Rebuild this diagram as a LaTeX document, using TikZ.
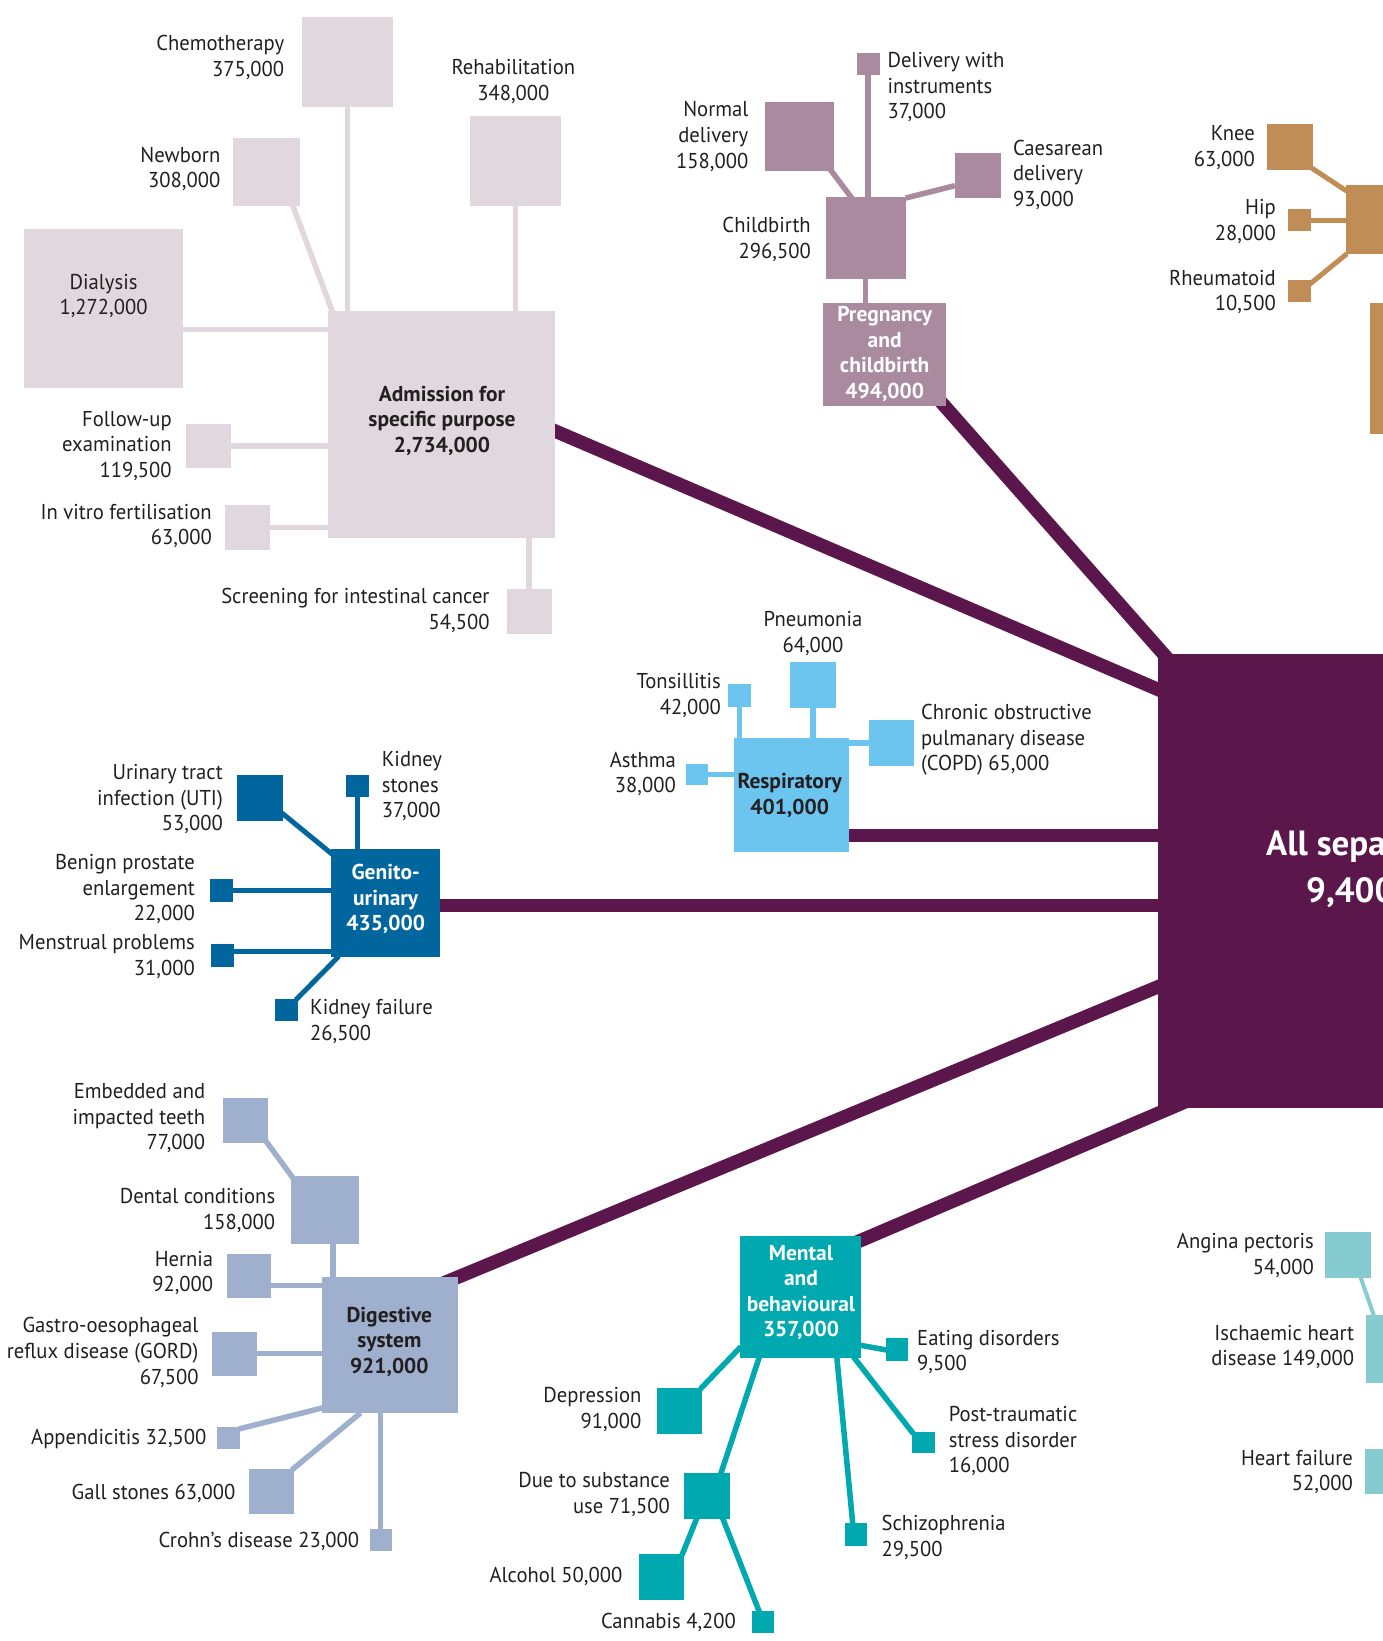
\documentclass[tikz,border=0pt]{standalone}
\usepackage{fontspec}
\setmainfont{PT Sans}
\newfontfamily\labfont{PT Sans}[FakeStretch=0.96]
\usetikzlibrary{backgrounds,calc}
\definecolor{admc}{HTML}{E0D8DE}
\definecolor{pregc}{HTML}{A98A9E}
\definecolor{orthc}{HTML}{BF8D55}
\definecolor{respc}{HTML}{6CC5EF}
\definecolor{genc}{HTML}{00669D}
\definecolor{digc}{HTML}{9FB0CF}
\definecolor{mentc}{HTML}{00A8B0}
\definecolor{heartc}{HTML}{85CBD0}
\definecolor{mainc}{HTML}{5B164B}
\definecolor{txtc}{HTML}{231F20}
\begin{document}
\begin{tikzpicture}[x=1pt,y=-1pt,
 box/.style={fill=#1,draw=none,inner sep=0pt,outer sep=0pt},
 sz/.style 2 args={minimum width=#1pt,minimum height=#2pt},
 conn/.style={draw=#1,line width=5.5pt},
 mainln/.style={draw=mainc,line width=13.5pt},
 lab/.style={inner sep=0pt,font=\labfont\fontsize{21.5}{25.6}\selectfont,text=txtc},
 labr/.style={lab,align=right,anchor=east},
 labl/.style={lab,align=left,anchor=west},
 labc/.style={lab,align=center},
 head/.style={inner sep=0pt,font=\fontsize{21.5}{25.6}\selectfont\bfseries,align=center,text=#1},
 bigtxt/.style={inner sep=0pt,anchor=west,font=\fontsize{35}{46}\selectfont\bfseries,text=white}
]
\useasboundingbox (0,0) rectangle (1383,1641);
\clip (0,0) rectangle (1383,1641);

% ---------- Admission for specific purpose ----------
\node[box=admc,sz={91}{90}] (chemo) at (347.3,61.5) {};
\node[box=admc,sz={91}{90}] (rehab) at (515.5,161.2) {};
\node[box=admc,sz={67.4}{67.6}] (newborn) at (266.7,171.8) {};
\node[box=admc,sz={159}{158.8}] (dialysis) at (103.5,308.2) {};
\node[box=admc,sz={227}{226.6}] (adm) at (441.5,424.3) {};
\node[box=admc,sz={44.8}{44.4}] (follow) at (208.4,446.2) {};
\node[box=admc,sz={45}{44.6}] (ivf) at (247.5,527.3) {};
\node[box=admc,sz={45}{45}] (screen) at (529.2,611) {};

\node[labr] (lchemo) at (284.4,57.5) {Chemotherapy\\375,000};
\node[labc] (lrehab) at (513.4,81.5) {Rehabilitation\\348,000};
\node[labr] (lnewborn) at (220.5,169) {Newborn\\308,000};
\node[labc] (ldialysis) at (103.6,296) {Dialysis\\1,272,000};
\node[head=txtc] (ladm) at (442,420.7) {Admission for\\specific purpose\\2,734,000};
\node[labr] (lfollow) at (171.9,445.9) {Follow-up\\examination\\119,500};
\node[labr] (livf) at (212,526) {In vitro fertilisation\\63,000};
\node[labr] (lscreen) at (489.7,610.3) {Screening for intestinal cancer\\54,500};

% ---------- Pregnancy and childbirth ----------
\node[box=pregc,sz={22.7}{22.4}] (instr) at (868.2,64.2) {};
\node[box=pregc,sz={68.4}{68.8}] (normal) at (799.5,136.4) {};
\node[box=pregc,sz={45.8}{44.6}] (caes) at (977.7,175.7) {};
\node[box=pregc,sz={80.1}{81.5}] (childb) at (865.6,237.8) {};
\node[box=pregc,sz={123.2}{103.6}] (preg) at (884.4,354.4) {};

\node[labl] (linstr) at (887.3,87) {Delivery with\\instruments\\37,000};
\node[labr] (lnormal) at (748.5,136.5) {Normal\\delivery\\158,000};
\node[labl] (lcaes) at (1012.8,174.6) {Caesarean\\delivery\\93,000};
\node[labr] (lchildb) at (811,239.5) {Childbirth\\296,500};
\node[head=white] (lpreg) at (884.7,354) {Pregnancy\\and\\childbirth\\494,000};

% ---------- Musculoskeletal (partial) ----------
\node[box=orthc,sz={46}{45.5}] (knee) at (1290,146.8) {};
\node[box=orthc,sz={23}{22}] (hip) at (1299.5,220) {};
\node[box=orthc,sz={23}{22}] (rheum) at (1299.5,291) {};
\node[box=orthc,sz={68.4}{68.4}] (ortho) at (1380.2,219.5) {};
\node[box=orthc,sz={131}{131}] (orthb) at (1435,368.1) {};

\node[labr] (lknee) at (1255,147.7) {Knee\\63,000};
\node[labr] (lhip) at (1276,221.3) {Hip\\28,000};
\node[labr] (lrheum) at (1276,292) {Rheumatoid\\10,500};

% ---------- Respiratory ----------
\node[box=respc,sz={46}{45.3}] (pneu) at (813,685) {};
\node[box=respc,sz={23.1}{22.6}] (tons) at (739.5,695.3) {};
\node[box=respc,sz={115}{114}] (resp) at (791.5,794.5) {};
\node[box=respc,sz={22}{21}] (asthma) at (696.7,774.5) {};
\node[box=respc,sz={45.3}{45.6}] (copd) at (891.3,742.8) {};

\node[labc] (lpneu) at (813,633.7) {Pneumonia\\64,000};
\node[labr] (ltons) at (721,695.7) {Tonsillitis\\42,000};
\node[labr] (lasthma) at (676,773.9) {Asthma\\38,000};
\node[labl] (lcopd) at (920.8,740) {Chronic obstructive\\pulmanary disease\\(COPD) 65,000};
\node[head=txtc] (lresp) at (789.7,795.7) {Respiratory\\401,000};

% ---------- Genito-urinary ----------
\node[box=genc,sz={45.6}{45.7}] (uti) at (259.8,797.9) {};
\node[box=genc,sz={22.3}{22}] (kstone) at (357.6,786.3) {};
\node[box=genc,sz={109.2}{108}] (gen) at (385.4,903.3) {};
\node[box=genc,sz={22.8}{22.4}] (benign) at (221.2,890.5) {};
\node[box=genc,sz={22.5}{22.4}] (menst) at (222.3,955.5) {};
\node[box=genc,sz={22.8}{22.5}] (kfail) at (286.4,1010.2) {};

\node[labr] (luti) at (223,799) {Urinary tract\\infection (UTI)\\53,000};
\node[labl] (lkstone) at (381.7,786) {Kidney\\stones\\37,000};
\node[labr] (lbenign) at (195,889) {Benign prostate\\enlargement\\22,000};
\node[labr] (lmenst) at (195,956.8) {Menstrual problems\\31,000};
\node[labl] (lkfail) at (310,1021.7) {Kidney failure\\26,500};
\node[head=white] (lgen) at (385.7,899) {Genito-\\urinary\\435,000};

% ---------- Digestive ----------
\node[box=digc,sz={45}{44.6}] (embed) at (245.5,1120.3) {};
\node[box=digc,sz={67.5}{67.5}] (dental) at (324.8,1209.8) {};
\node[box=digc,sz={44.6}{44}] (hernia) at (249.1,1276) {};
\node[box=digc,sz={135.6}{135.7}] (dig) at (389.8,1344.9) {};
\node[box=digc,sz={45}{44}] (gord) at (234.5,1353.5) {};
\node[box=digc,sz={22.3}{22}] (append) at (228.6,1438) {};
\node[box=digc,sz={44.7}{44.6}] (gall) at (271.4,1491.3) {};
\node[box=digc,sz={21.9}{22}] (crohn) at (380.6,1540) {};

\node[labr] (lembed) at (205.4,1118.4) {Embedded and\\impacted teeth\\77,000};
\node[labr] (ldental) at (275.4,1210.2) {Dental conditions\\158,000};
\node[labr] (lhernia) at (213.4,1272.9) {Hernia\\92,000};
\node[labr] (lgord) at (198.7,1352.5) {Gastro-oesophageal\\reflux disease (GORD)\\67,500};
\node[labr] (lappend) at (206.7,1438.5) {Appendicitis 32,500};
\node[labr] (lgall) at (235.7,1493) {Gall stones 63,000};
\node[labr] (lcrohn) at (359.4,1541) {Crohn’s disease 23,000};
\node[head=txtc] (ldig) at (389.3,1341.8) {Digestive\\system\\921,000};

% ---------- Mental and behavioural ----------
\node[box=mentc,sz={121.4}{121.7}] (mental) at (800.5,1296.9) {};
\node[box=mentc,sz={22.7}{22.4}] (eat) at (896.9,1349.5) {};
\node[box=mentc,sz={45.8}{45.7}] (depr) at (679.4,1410.9) {};
\node[box=mentc,sz={46.4}{45.7}] (subst) at (707,1495.9) {};
\node[box=mentc,sz={45.2}{45.7}] (alco) at (661.8,1576.9) {};
\node[box=mentc,sz={22.6}{22.3}] (cann) at (763,1622.2) {};
\node[box=mentc,sz={22}{22.7}] (schiz) at (856,1534.7) {};
\node[box=mentc,sz={22.7}{21.6}] (ptsd) at (923.7,1442.5) {};

\node[labl] (leat) at (917,1352) {Eating disorders\\9,500};
\node[labr] (ldepr) at (641.6,1409.7) {Depression\\91,000};
\node[labr] (lsubst) at (670,1494.5) {Due to substance\\use 71,500};
\node[labr] (lalco) at (622.6,1576) {Alcohol 50,000};
\node[labr] (lcann) at (736.2,1622.7) {Cannabis 4,200};
\node[labl] (lschiz) at (881.4,1537.5) {Schizophrenia\\29,500};
\node[labl] (lptsd) at (948.6,1441) {Post-traumatic\\stress disorder\\16,000};
\node[head=white] (lmental) at (801,1292.5) {Mental\\and\\behavioural\\357,000};

% ---------- Circulatory (partial) ----------
\node[box=heartc,sz={45.7}{45.7}] (angina) at (1348.2,1254.9) {};
\node[box=heartc,sz={68.3}{68.3}] (isch) at (1400.5,1349.2) {};
\node[box=heartc,sz={45.3}{45.3}] (hfail) at (1387.2,1471.7) {};

\node[labr] (langina) at (1314,1255.5) {Angina pectoris\\54,000};
\node[labr] (lisch) at (1354.4,1347) {Ischaemic heart\\disease 149,000};
\node[labr] (lhfail) at (1353,1472) {Heart failure\\52,000};

% ---------- All separations ----------
\node[box=mainc,sz={453.2}{453.2}] (mainbox) at (1384.4,881) {};
\node[bigtxt] (lall1) at (1266,847) {All sepa};
\node[bigtxt] (lall2) at (1306,893) {9,400};

% ---------- connectors ----------
\begin{pgfonlayer}{background}
 % admission
 \draw[conn=admc] (chemo.south) -- (chemo.south |- adm.north);
 \draw[conn=admc] (rehab.south) -- (rehab.south |- adm.north);
 \draw[conn=admc] ($(newborn.south east)+(-8,-1)$) -- ($(adm.north west)+(4.6,1)$);
 \coordinate (cdia) at ($(dialysis.east)+(0,21.3)$);
 \draw[conn=admc] (cdia) -- (cdia -| adm.west);
 \draw[conn=admc] (follow.east) -- (follow.east -| adm.west);
 \draw[conn=admc] (ivf.east) -- (ivf.east -| adm.west);
 \draw[conn=admc] (screen.north) -- (screen.north |- adm.south);
 % pregnancy
 \draw[conn=pregc] (instr.south) -- (instr.south |- childb.north);
 \draw[conn=pregc] ($(normal.south east)+(-4,-2)$) -- ($(childb.north west)+(27,2)$);
 \draw[conn=pregc] ($(caes.west)+(0,10)$) -- ($(childb.north east)+(0,1)$);
 \draw[conn=pregc] (childb.south) -- (childb.south |- preg.north);
 % musculoskeletal
 \draw[conn=orthc,line width=5pt] ($(knee.south east)+(-2,-2)$) -- ($(ortho.north west)+(1,6)$);
 \draw[conn=orthc,line width=5pt] (hip.east) -- (hip.east -| ortho.west);
 \draw[conn=orthc,line width=5pt] ($(rheum.north east)+(-1,4)$) -- ($(ortho.south west)+(1,0)$);
 % respiratory
 \draw[conn=respc] (pneu.south) -- (pneu.south |- resp.north);
 \draw[conn=respc] (tons.south) -- (tons.south |- resp.north);
 \draw[conn=respc] (asthma.east) -- (asthma.east -| resp.west);
 \draw[conn=respc] (copd.west) -- (copd.west -| resp.east);
 % genito-urinary
 \draw[conn=genc,line width=5pt] ($(uti.south east)+(-1,-8)$) -- ($(gen.north west)+(1.5,5)$);
 \draw[conn=genc,line width=5pt] (kstone.south) -- (kstone.south |- gen.north);
 \draw[conn=genc,line width=5pt] (benign.east) -- (benign.east -| gen.west);
 \coordinate (cmen) at ($(menst.east)+(0,-4.5)$);
 \draw[conn=genc,line width=5pt] (cmen) -- (cmen -| gen.west);
 \draw[conn=genc,line width=5pt] ($(kfail.north east)+(-2,1)$) -- ($(gen.south west)+(8,-1)$);
 % digestive
 \draw[conn=digc] ($(embed.south east)+(-2.4,-2)$) -- ($(dental.north west)+(2,2)$);
 \coordinate (cden) at ($(dental.south)+(8.2,0)$);
 \draw[conn=digc] (cden) -- (cden |- dig.north);
 \coordinate (cher) at ($(hernia.east)+(0,9.7)$);
 \draw[conn=digc] (cher) -- (cher -| dig.west);
 \draw[conn=digc] (gord.east) -- (gord.east -| dig.west);
 \draw[conn=digc] ($(append.north east)+(-1,2)$) -- ($(dig.south west)+(1,-5)$);
 \draw[conn=digc] ($(gall.north east)+(-2,1)$) -- ($(dig.south west)+(38.7,0)$);
 \draw[conn=digc] (crohn.north) -- (crohn.north |- dig.south);
 % mental
 \draw[conn=mentc] ($(mental.south east)+(-2,-12.7)$) -- ($(eat.west)+(1,0.5)$);
 \draw[conn=mentc] ($(depr.north east)+(-2,1)$) -- ($(mental.south west)+(1,-11)$);
 \draw[conn=mentc] ($(subst.north east)+(-9.5,1)$) -- ($(mental.south west)+(19.6,-1)$);
 \draw[conn=mentc] ($(subst.south west)+(13.2,-1)$) -- ($(alco.north east)+(-2.4,1)$);
 \draw[conn=mentc] ($(subst.south west)+(38.7,-1)$) -- ($(cann.north)+(-3.6,1)$);
 \draw[conn=mentc] ($(mental.south west)+(97,-1)$) -- ($(schiz.north)+(-3.2,1)$);
 \draw[conn=mentc] ($(mental.south west)+(113.6,-1)$) -- ($(ptsd.north west)+(1,2)$);
 % circulatory
 \draw[conn=heartc,line width=4pt] ($(angina.south)+(12.2,-1)$) -- ($(isch.north west)+(7.7,1)$);
 % main connectors
 \draw[mainln] ($(adm.east)+(-10,2.4)$) -- ($(mainbox.west)+(12,-186.5)$);
 \draw[mainln] ($(preg.south east)+(-16,-16.7)$) -- ($(mainbox.north west)+(17.2,12.6)$);
 \coordinate (cres) at ($(resp.east)+(-5,40.9)$);
 \draw[mainln] (cres) -- ($(cres -| mainbox.west)+(10,0)$);
 \coordinate (cgen) at ($(gen.east)+(-5,2.2)$);
 \draw[mainln] (cgen) -- ($(cgen -| mainbox.west)+(10,0)$);
 \draw[mainln] ($(dig.north east)+(-17.6,7.5)$) -- ($(mainbox.west)+(12.2,100.8)$);
 \draw[mainln] ($(mental.north east)+(-11.2,9)$) -- ($(mainbox.south west)+(37.2,-10)$);
\end{pgfonlayer}
\end{tikzpicture}
\end{document}
